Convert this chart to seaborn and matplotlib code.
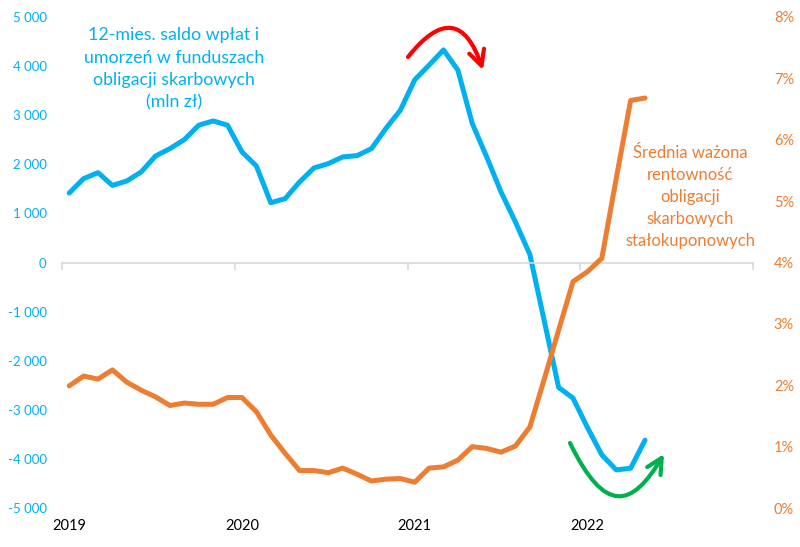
import matplotlib
matplotlib.use("Agg")
import matplotlib.pyplot as plt
from matplotlib.path import Path
from matplotlib.patches import FancyArrowPatch
from matplotlib.transforms import IdentityTransform
import seaborn as sns
import pandas as pd
import numpy as np

# ---- data (monthly, Jan 2019 - May 2022) ----
years = ["2019", "2020", "2021", "2022"]
saldo = [1415, 1708, 1830, 1571, 1660, 1844, 2170, 2320, 2504, 2796, 2884, 2796,
         2252, 1966, 1218, 1300, 1640, 1925, 2014, 2150, 2177, 2320, 2730, 3100,
         3720, 4020, 4330, 3918, 2830, 2150, 1435, 823, 163, -1190, -2545, -2762,
         -3361, -3918, -4224, -4190, -3618]
rentownosc = [1.99, 2.15, 2.10, 2.25, 2.05, 1.92, 1.81, 1.67, 1.71, 1.69, 1.69, 1.80,
              1.80, 1.57, 1.19, 0.89, 0.61, 0.61, 0.575, 0.65, 0.55, 0.44, 0.47, 0.48,
              0.42, 0.65, 0.67, 0.78, 1.00, 0.97, 0.91, 1.01, 1.32, 2.10, 2.90, 3.69,
              3.85, 4.07, 5.37, 6.64, 6.68]
left_ticks = list(range(-5000, 5001, 1000))
right_ticks = list(range(0, 9))
blue_label = "12-mies. saldo wpłat i\numorzeń w funduszach\nobligacji skarbowych\n(mln zł)"
orange_label = "Średnia ważona\nrentowność\nobligacji\nskarbowych\nstałokuponowych"

sns.set_theme(style="white")
plt.rcParams['font.family'] = ['Lato', 'DejaVu Sans']

BLUE = "#00B0F0"
ORANGE = "#ED7D31"
GRID = "#D9D9D9"
W, H = 800, 547
HEAD = "->,head_length=0.55,head_width=0.28"

n = len(saldo)
df = pd.DataFrame({"m": np.arange(n), "saldo": saldo, "rent": rentownosc})

fig = plt.figure(figsize=(8, 5.47), dpi=100)
ax = fig.add_axes([62/W, 1-508/H, (753-62)/W, (508-17)/H])
sns.lineplot(data=df, x="m", y="saldo", ax=ax, color=BLUE, linewidth=3.6)
ax2 = ax.twinx()
sns.lineplot(data=df, x="m", y="rent", ax=ax2, color=ORANGE, linewidth=3.6)

for a in (ax, ax2):
    a.set_xlabel("")
    a.set_ylabel("")
    for s in a.spines.values():
        s.set_visible(False)

ax.set_xlim(-0.5, 47.5)
ax.set_ylim(-5000, 5000)
ax2.set_ylim(0, 8)

# zero line with year separators
ax.spines['bottom'].set_visible(True)
ax.spines['bottom'].set_position(('data', 0))
ax.spines['bottom'].set_color(GRID)
ax.spines['bottom'].set_linewidth(1.2)
ax.set_xticks([-0.5 + 12 * k for k in range(5)])
ax.tick_params(axis='x', bottom=True, direction='out', length=5, width=1.2,
               color=GRID, labelbottom=False)

sec = ax.secondary_xaxis('bottom')
sec.set_xticks([12 * k for k in range(len(years))], labels=years)
sec.tick_params(axis='x', bottom=True, length=0, pad=8, labelsize=10.5, labelcolor='black')
for s in sec.spines.values():
    s.set_visible(False)

ax.set_yticks(left_ticks, labels=[f"{v:,}".replace(",", " ") for v in left_ticks])
ax.tick_params(axis='y', left=False, length=0, pad=11, labelsize=9.5, labelcolor=BLUE)
ax2.set_yticks(right_ticks, labels=[f"{v}%" for v in right_ticks])
ax2.tick_params(axis='y', right=False, length=0, pad=15, labelsize=10.5, labelcolor=ORANGE)

fig.text(174/W, 1-69/H, blue_label, ha='center', va='center', color=BLUE,
         fontsize=12.8, linespacing=1.5, multialignment='center')
fig.text(690/W, 1-197/H, orange_label, ha='center', va='center', color=ORANGE,
         fontsize=12, linespacing=1.48, multialignment='center')

# red arrow (peak)
ax.annotate("", xy=(483, H-70), xytext=(408, H-57), xycoords='figure pixels',
            textcoords='figure pixels',
            arrowprops=dict(arrowstyle=HEAD,
                            connectionstyle="arc3,rad=-0.92", color='#FF0000',
                            lw=3, shrinkA=0, shrinkB=0, mutation_scale=20))

# green arrow (rebound), cubic curve in figure pixels
gpts = [(570, 443), (605, 515), (632, 508), (664, 454)]
gpath = Path([(x, H - y) for x, y in gpts],
             [Path.MOVETO, Path.CURVE4, Path.CURVE4, Path.CURVE4])
garrow = FancyArrowPatch(path=gpath, arrowstyle=HEAD,
                         mutation_scale=20, color='#00B050', lw=3,
                         transform=IdentityTransform())
fig.add_artist(garrow)

fig.savefig("out.png", dpi=100)
